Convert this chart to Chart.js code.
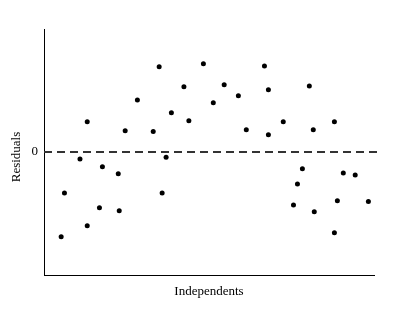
<!DOCTYPE html>
<html>
<head>
<meta charset="utf-8">
<script src="https://cdn.jsdelivr.net/npm/chart.js@4"></script>
<style>
    html, body { margin: 0; padding: 0; background: #fff; }
    canvas { display: block; }
</style>
</head>
<body>
<canvas id="residualChart" width="400" height="309"></canvas>
<script>
// Data
const independents = [0.52, 0.62, 1.09, 1.31, 1.31, 1.68, 1.77, 2.25, 2.28, 2.46,
    2.83, 3.31, 3.49, 3.58, 3.70, 3.86, 4.24, 4.39, 4.83, 5.13,
    5.46, 5.89, 6.13, 6.68, 6.80, 6.80, 7.25, 7.56, 7.68, 7.83,
    8.04, 8.16, 8.19, 8.80, 8.80, 8.89, 9.07, 9.43, 9.83];
const residuals = [-2.07, -1.00, -0.17, 0.74, -1.80, -1.36, -0.36, -0.53, -1.43, 0.52,
    1.27, 0.50, 2.08, -1.00, -0.13, 0.96, 1.59, 0.76, 2.15, 1.20,
    1.64, 1.37, 0.54, 2.10, 1.52, 0.42, 0.74, -1.29, -0.78, -0.41,
    1.61, 0.54, -1.46, 0.74, -1.97, -1.19, -0.51, -0.56, -1.21];
const yTickLabels = ['0'];
const xTitle = 'Independents';
const yTitle = 'Residuals';

const serif = '"Liberation Serif", "Times New Roman", serif';

// Zero reference line + axis titles
const extras = {
    id: 'extras',
    beforeDatasetsDraw(chart) {
        const ctx = chart.ctx;
        const y = chart.scales.y.getPixelForValue(0);
        ctx.save();
        ctx.strokeStyle = '#333';
        ctx.lineWidth = 2;
        ctx.setLineDash([8, 5]);
        ctx.beginPath();
        ctx.moveTo(chart.chartArea.left, y);
        ctx.lineTo(382, y);
        ctx.stroke();
        ctx.restore();
    },
    afterDraw(chart) {
        const ctx = chart.ctx;
        ctx.save();
        ctx.fillStyle = '#000';
        ctx.font = '13px ' + serif;
        ctx.textAlign = 'center';
        ctx.textBaseline = 'middle';
        ctx.fillText(xTitle, 209, 292);
        ctx.translate(17, 157);
        ctx.rotate(-Math.PI / 2);
        ctx.fillText(yTitle, 0, 0);
        ctx.restore();
    }
};

const ctx = document.getElementById('residualChart').getContext('2d');
const chart = new Chart(ctx, {
    type: 'scatter',
    data: {
        datasets: [{
            label: 'Residuals',
            data: independents.map((x, i) => ({ x: x, y: residuals[i] })),
            backgroundColor: '#000',
            borderWidth: 0,
            pointRadius: 2.5
        }]
    },
    options: {
        responsive: false,
        animation: false,
        layout: {
            padding: { left: 0, top: 29, right: 26, bottom: 0 }
        },
        plugins: {
            legend: { display: false },
            tooltip: { enabled: false }
        },
        scales: {
            x: {
                min: 0,
                max: 10,
                grid: { display: false },
                ticks: { display: false },
                border: { color: '#000', width: 1 },
                afterFit(scale) { scale.height = 34; }
            },
            y: {
                min: -3,
                max: 3,
                grid: { display: false, drawTicks: false },
                border: { color: '#000', width: 1 },
                ticks: {
                    stepSize: 3,
                    padding: 6,
                    color: '#000',
                    font: { family: serif, size: 13 },
                    callback: (v) => yTickLabels.includes(String(v)) ? String(v) : ''
                },
                afterFit(scale) { scale.width = 44; }
            }
        }
    },
    plugins: [extras]
});
</script>
</body>
</html>
